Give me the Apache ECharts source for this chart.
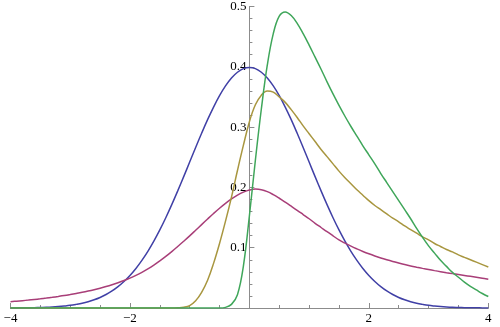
<!DOCTYPE html>
<html>
<head>
<meta charset="utf-8">
<script src="https://cdn.jsdelivr.net/npm/echarts@6/dist/echarts.min.js"></script>
<style>
  html, body { margin: 0; padding: 0; background: #fff; }
  #chart { width: 500px; height: 327px; }
</style>
</head>
<body>
<div id="chart"></div>
<script>
// sample grid: -4 .. 4 in steps of 0.1 (81 points)
var xs = [];
for (var k = -40; k <= 40; k++) xs.push(k / 10);

var blueVals = [
  0.0001, 0.0002, 0.0003, 0.0004, 0.0006, 0.0009, 0.0012, 0.0017, 0.0024, 0.0033,
  0.0044, 0.0060, 0.0079, 0.0104, 0.0136, 0.0175, 0.0224, 0.0283, 0.0355, 0.0440,
  0.0540, 0.0656, 0.0790, 0.0940, 0.1109, 0.1295, 0.1497, 0.1714, 0.1942, 0.2179,
  0.2420, 0.2661, 0.2897, 0.3123, 0.3332, 0.3521, 0.3683, 0.3814, 0.3910, 0.3970,
  0.3989,
  0.3970, 0.3910, 0.3814, 0.3683, 0.3521, 0.3332, 0.3123, 0.2897, 0.2661, 0.2420,
  0.2179, 0.1942, 0.1714, 0.1497, 0.1295, 0.1109, 0.0940, 0.0790, 0.0656, 0.0540,
  0.0440, 0.0355, 0.0283, 0.0224, 0.0175, 0.0136, 0.0104, 0.0079, 0.0060, 0.0044,
  0.0033, 0.0024, 0.0017, 0.0012, 0.0009, 0.0006, 0.0004, 0.0003, 0.0002, 0.0001];

var magentaVals = [
  0.0105, 0.0113, 0.0122, 0.0131, 0.0141, 0.0152, 0.0164, 0.0177, 0.0191, 0.0206,
  0.0223, 0.0241, 0.0260, 0.0281, 0.0304, 0.0329, 0.0356, 0.0386, 0.0419, 0.0455,
  0.0495, 0.0541, 0.0592, 0.0649, 0.0712, 0.0781, 0.0856, 0.0936, 0.1020, 0.1107,
  0.1196, 0.1289, 0.1383, 0.1476, 0.1567, 0.1654, 0.1735, 0.1808, 0.1871, 0.1921,
  0.1956,
  0.1972, 0.1962, 0.1930, 0.1880, 0.1820, 0.1755, 0.1688, 0.1620, 0.1550, 0.1480,
  0.1405, 0.1335, 0.1265, 0.1197, 0.1130, 0.1075, 0.1025, 0.0980, 0.0938, 0.0899,
  0.0863, 0.0830, 0.0800, 0.0772, 0.0746, 0.0721, 0.0698, 0.0677, 0.0657, 0.0638,
  0.0620, 0.0603, 0.0586, 0.0570, 0.0555, 0.0540, 0.0525, 0.0510, 0.0494, 0.0478];

var oliveVals = [
  0, 0, 0, 0, 0, 0, 0, 0, 0, 0,
  0, 0, 0, 0, 0, 0, 0, 0, 0, 0,
  0, 0, 0, 0, 0, 0, 0, 0, 0.0003, 0.0012,
  0.004, 0.012, 0.026, 0.046, 0.074, 0.107, 0.144, 0.184, 0.228, 0.270,
  0.309,
  0.337, 0.353, 0.360, 0.358, 0.350, 0.341, 0.329, 0.316, 0.302, 0.289,
  0.276, 0.263, 0.251, 0.239, 0.227, 0.216, 0.206, 0.196, 0.187, 0.178,
  0.170, 0.163, 0.156, 0.149, 0.143, 0.136, 0.130, 0.124, 0.118, 0.113,
  0.107, 0.102, 0.097, 0.093, 0.088, 0.084, 0.080, 0.076, 0.072, 0.068];

var greenVals = [
  0, 0, 0, 0, 0, 0, 0, 0, 0, 0,
  0, 0, 0, 0, 0, 0, 0, 0, 0, 0,
  0, 0, 0, 0, 0, 0, 0, 0, 0, 0,
  0, 0, 0, 0, 0, 0, 0.001, 0.006, 0.022, 0.070,
  0.153,
  0.245, 0.330, 0.403, 0.455, 0.484, 0.491, 0.485, 0.472, 0.455, 0.436,
  0.416, 0.396, 0.375, 0.355, 0.336, 0.318, 0.301, 0.285, 0.269, 0.254,
  0.239, 0.223, 0.208, 0.193, 0.178, 0.163, 0.148, 0.132, 0.117, 0.103,
  0.091, 0.079, 0.069, 0.059, 0.051, 0.043, 0.036, 0.030, 0.024, 0.019];

var xTicks = [-4, -2, 2, 4];
var yTicks = [0.1, 0.2, 0.3, 0.4, 0.5];

function pairs(vals) {
  var out = [];
  for (var i = 0; i < xs.length; i++) out.push([xs[i], vals[i]]);
  return out;
}

function curve(name, color, vals) {
  return {
    name: name, type: 'line', data: pairs(vals), smooth: 0.4,
    showSymbol: false, silent: true,
    lineStyle: { color: color, width: 1.5 }
  };
}

var font = '"Liberation Serif", "DejaVu Serif", serif';
var axisGray = '#8c8c8c';
var gridLeft = 10.5, gridRight = 11.7;
// put the y axis on x = 0 (middle of the -4..4 range)
var yShift = (500 - gridLeft - gridRight) / 2;

var chart = echarts.init(document.getElementById('chart'));
chart.setOption({
  animation: false,
  grid: { left: gridLeft, right: gridRight, top: 6.5, bottom: 19, outerBoundsMode: 'none' },
  xAxis: {
    type: 'value', min: -4, max: 4, interval: 2,
    axisLine: { onZero: true, lineStyle: { color: axisGray, width: 1 } },
    axisTick: { inside: true, length: 5, lineStyle: { color: axisGray } },
    minorTick: { show: true, splitNumber: 4, length: 3, lineStyle: { color: axisGray } },
    splitLine: { show: false },
    axisLabel: {
      margin: 4, color: '#000', fontFamily: font, fontSize: 13,
      formatter: function (v) {
        if (xTicks.indexOf(v) < 0) return '';
        return v < 0 ? '\u2212' + (-v) : String(v);
      }
    }
  },
  yAxis: {
    type: 'value', min: 0, max: 0.5, interval: 0.1,
    position: 'left', offset: -yShift,
    axisLine: { show: true, onZero: false, lineStyle: { color: axisGray, width: 1 } },
    axisTick: { show: true, inside: true, length: 5, lineStyle: { color: axisGray } },
    minorTick: { show: true, splitNumber: 5, length: 3, lineStyle: { color: axisGray } },
    splitLine: { show: false },
    axisLabel: {
      margin: 3, color: '#000', fontFamily: font, fontSize: 13,
      formatter: function (v) {
        var r = Math.round(v * 10) / 10;
        return yTicks.indexOf(r) < 0 ? '' : r.toFixed(1);
      }
    }
  },
  series: [
    curve('normal', '#4040a6', blueVals),
    curve('skewed', '#a83e78', magentaVals),
    curve('olive', '#a8963f', oliveVals),
    curve('green', '#3fa65a', greenVals)
  ]
});
</script>
</body>
</html>
